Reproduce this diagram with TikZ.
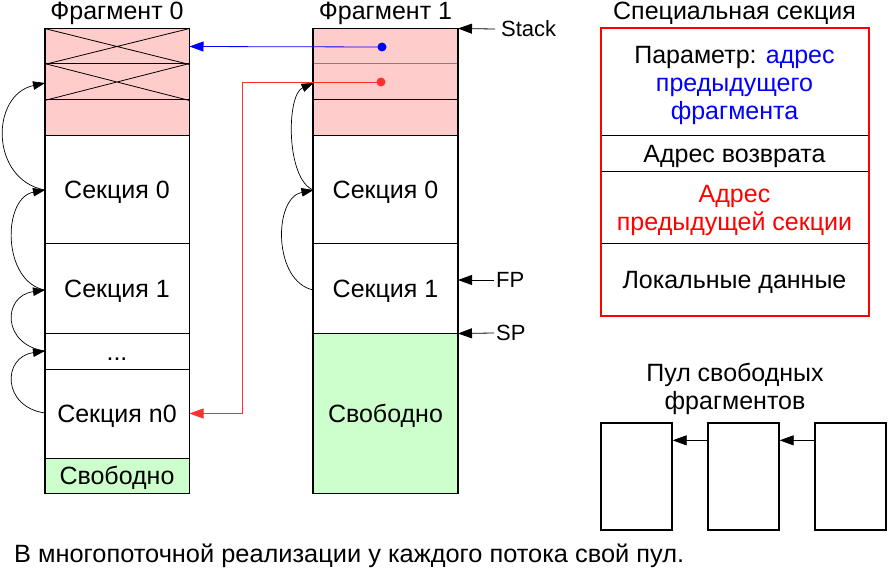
\documentclass[tikz,border=0pt]{standalone}
\usepackage{fontspec}
\setmainfont{Liberation Sans}
\usetikzlibrary{arrows.meta}
\definecolor{pinkc}{HTML}{FFCCCC}
\definecolor{greenc}{HTML}{CCFFCC}
\definecolor{redl}{HTML}{FF3030}
\begin{document}
\begin{tikzpicture}[x=1pt,y=-1pt,
  font=\fontsize{25}{28}\selectfont,
  cell/.style={draw, line width=1pt, minimum width=144pt, inner sep=0pt, align=center, text height=18pt, text depth=0pt},
  spcell/.style={draw, line width=1pt, minimum width=267pt, inner sep=0pt, align=center},
  poolbox/.style={draw, line width=1.3pt, minimum width=71pt, minimum height=107pt, inner sep=0pt},
  arr/.style={-{Triangle[length=14pt,width=10pt]}},
  carr/.style={line width=0.7pt,-{Triangle[length=12pt,width=8.5pt]}},
  dot/.style={circle, inner sep=0pt, minimum size=9pt},
  lbl/.style={inner sep=2pt, font=\fontsize{22}{24}\selectfont},
  ttl/.style={inner sep=0pt},
  txt/.style={inner sep=0pt, align=center}]
\useasboundingbox[fill=white] (0,0) rectangle (892,575);

% Fragment 0
\node[ttl] (t0) at (117,13) {Фрагмент 0};
\node[cell, minimum height=35pt, fill=pinkc] (f0a) at (117,46.5) {};
\node[cell, minimum height=36pt, fill=pinkc] (f0b) at (117,82) {};
\node[cell, minimum height=36pt, fill=pinkc] (f0c) at (117,118) {};
\node[cell, minimum height=107pt] (f0s0) at (117,189.5) {Секция 0};
\node[cell, minimum height=90pt] (f0s1) at (117,288) {Секция 1};
\node[cell, minimum height=36pt] (f0d) at (117,351) {...};
\node[cell, minimum height=89pt] (f0sn) at (117,413.5) {Секция n0};
\node[cell, minimum height=35pt, fill=greenc] (f0f) at (117,475.5) {Свободно};
\draw[line width=0.8pt] (f0a.north west) -- (f0a.south east) (f0a.south west) -- (f0a.north east);
\draw[line width=0.8pt] (f0b.north west) -- (f0b.south east) (f0b.south west) -- (f0b.north east);
\draw[line width=1.6pt] (f0a.north west) rectangle (f0f.south east);

% Fragment 1
\node[ttl] (t1) at (385.5,13) {Фрагмент 1};
\node[cell, minimum height=35pt, fill=pinkc] (f1a) at (385.5,46.5) {};
\node[cell, minimum height=36pt, fill=pinkc, draw=gray] (f1b) at (385.5,82) {};
\node[cell, minimum height=36pt, fill=pinkc] (f1c) at (385.5,118) {};
\node[cell, minimum height=107pt] (f1s0) at (385.5,189.5) {Секция 0};
\node[cell, minimum height=90pt] (f1s1) at (385.5,288) {Секция 1};
\node[cell, minimum height=160pt, fill=greenc] (f1f) at (385.5,413) {Свободно};
\draw[line width=1.6pt] (f1a.north west) rectangle (f1f.south east);

% pointers
\node[dot, fill=blue] (bdot) at (382,47) {};
\node[dot, fill=redl] (rdot) at (381,82) {};
\coordinate (rc) at (242,82);
\draw[blue, line width=0.8pt, arr] (bdot.center) -- (f0a.east);
\draw[redl, line width=0.8pt, arr] (rdot.center) -- (rc) |- (f0sn.east);

% section chain arrows, fragment 0
\coordinate (a0) at (45,190);
\coordinate (a1) at (45,290);
\coordinate (a2) at (45,351);
\coordinate (a3) at (45,413);
\coordinate (ab) at (45,83);
\draw[carr] (a0) .. controls (-10,180) and (-10,95) .. (ab);
\draw[carr] (a1) .. controls (2,282) and (2,198) .. (a0);
\draw[carr] (a2) .. controls (2,345) and (2,296) .. (a1);
\draw[carr] (a3) .. controls (2,407) and (2,357) .. (a2);

% fragment 1
\coordinate (b0) at (313.5,190);
\coordinate (b1) at (313.5,290);
\coordinate (bb) at (313.5,83);
\draw[carr] (b0) .. controls (286,180) and (286,95) .. (bb);
\draw[carr] (b1) .. controls (273,282) and (273,198) .. (b0);

% Stack / FP / SP
\node[lbl, anchor=west] (stack) at (499,29) {Stack};
\node[lbl, anchor=west] (fp) at (494,280) {FP};
\node[lbl, anchor=west] (sp) at (494,333) {SP};
\draw[line width=0.8pt, arr] ([xshift=-4pt]stack.west) -- (f1a.north east);
\draw[line width=0.8pt, arr] (fp.west) -- (fp.west -| f1s1.east);
\draw[line width=0.8pt, arr] (sp.west) -- (f1s1.south east);

% special section
\node[ttl] (ts) at (734.5,13) {Специальная секция};
\node[spcell, minimum height=107pt] (sp1) at (734.5,82.5) {};
\node[txt] (sp1t) at ([yshift=-3pt]sp1.center) {Параметр: \textcolor{blue}{адрес}\\\textcolor{blue}{предыдущего}\\\textcolor{blue}{фрагмента}};
\node[spcell, minimum height=36pt, text height=18pt, text depth=0pt] (sp2) at (734.5,154) {Адрес возврата};
\node[spcell, minimum height=71pt] (sp3) at (734.5,207.5) {};
\node[txt, text=red] (sp3t) at ([yshift=-3pt]sp3.center) {Адрес\\предыдущей секции};
\node[spcell, minimum height=72pt, text height=18pt, text depth=0pt] (sp4) at (734.5,279) {Локальные данные};
\draw[red, line width=2pt] (sp1.north west) rectangle (sp4.south east);

% pool
\node[ttl, align=center] (tp) at (735,389) {Пул свободных\\фрагментов};
\node[poolbox] (p1) at (636.5,476.5) {};
\node[poolbox] (p2) at (743.5,476.5) {};
\node[poolbox] (p3) at (850.5,476.5) {};
\draw[line width=0.8pt, arr] ([yshift=-18pt]p2.north west) -- ([yshift=-18pt]p1.north east);
\draw[line width=0.8pt, arr] ([yshift=-18pt]p3.north west) -- ([yshift=-18pt]p2.north east);

% bottom note
\node[inner sep=0pt, anchor=west, xscale=1.015] (note) at (14,556) {В многопоточной реализации у каждого потока свой пул.};
\end{tikzpicture}
\end{document}
